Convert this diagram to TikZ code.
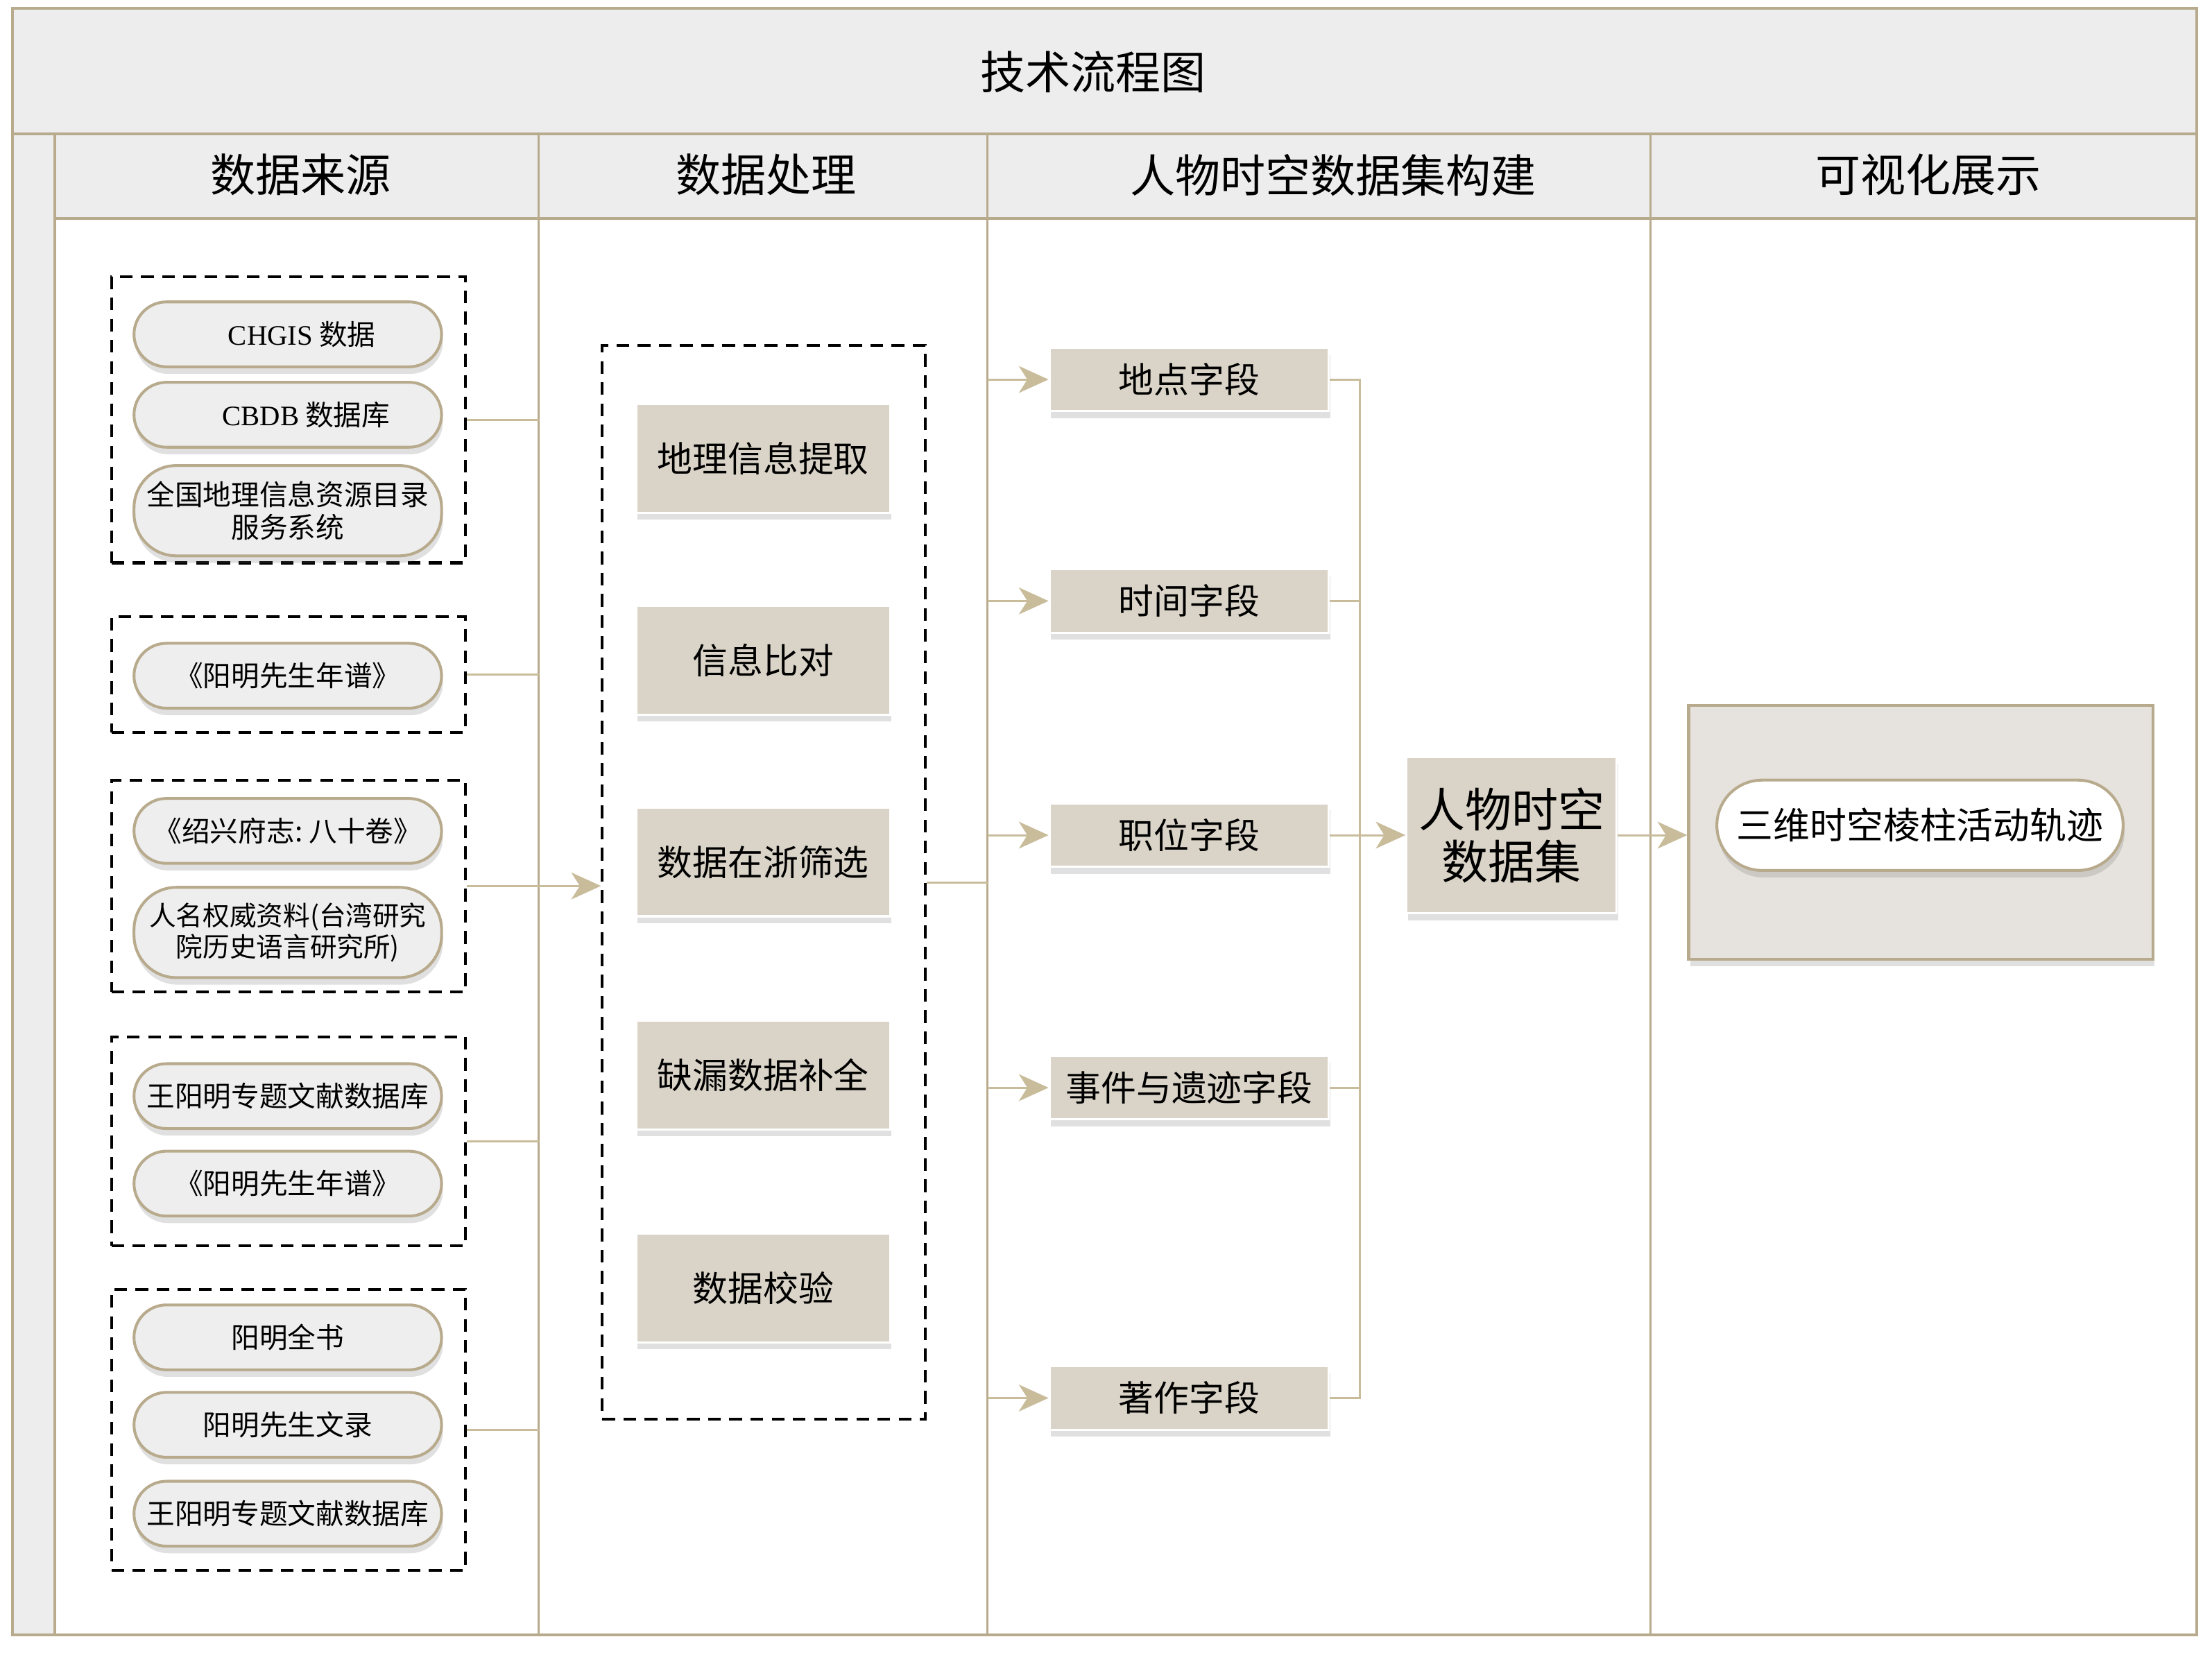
\documentclass[tikz,border=0pt]{standalone}
\usepackage{fontspec}
\setmainfont{Noto Sans CJK SC}
\newfontfamily\latinf{Liberation Serif}
\usetikzlibrary{arrows.meta,shadows}
\definecolor{tanline}{HTML}{B8AA8C}
\definecolor{arrowtan}{HTML}{C8BC9A}
\definecolor{hdrfill}{HTML}{EDEDED}
\definecolor{pillfill}{HTML}{EEEEEE}
\definecolor{boxfill}{HTML}{DAD4C8}
\definecolor{vizfill}{HTML}{E6E2DD}
\begin{document}
\begin{tikzpicture}[x=1pt,y=-1pt,
  softshadow/.style={drop shadow={shadow xshift=1pt,shadow yshift=-5pt,opacity=0.22,fill=black!55}},
  frameline/.style={draw=tanline,line width=2pt},
  divline/.style={draw=tanline,line width=1.5pt},
  title/.style={font=\fontsize{32}{36}\selectfont,inner sep=0pt},
  grp/.style={draw=black,line width=2pt,dash pattern=on 9pt off 6pt,fill=none,inner sep=0pt,minimum width=251pt},
  pill/.style={draw=tanline,line width=2pt,fill=pillfill,rounded corners=23pt,minimum width=218pt,minimum height=46pt,inner sep=0pt,align=center,font=\fontsize{20}{23}\selectfont,softshadow},
  pilltall/.style={pill,minimum height=64pt,rounded corners=30pt},
  procbox/.style={draw=white,line width=1.5pt,fill=boxfill,minimum width=180pt,minimum height=77pt,inner sep=0pt,font=\fontsize{25}{28}\selectfont,softshadow},
  fieldbox/.style={draw=white,line width=1.5pt,fill=boxfill,minimum width=198pt,minimum height=45pt,inner sep=0pt,font=\fontsize{25}{28}\selectfont,softshadow},
  conn/.style={draw=arrowtan,line width=1.5pt},
  arr/.style={conn,-{Stealth[length=21pt,width=19pt,inset=6pt,fill=arrowtan]}}
]
\useasboundingbox (0,0) rectangle (1568,1173);
\fill[white] (0,0) rectangle (1568,1173);
% frame
\fill[hdrfill] (9,6) rectangle (1557,95);
\fill[hdrfill] (39,95) rectangle (1557,155);
\fill[hdrfill] (9,95) rectangle (39,1159);
\coordinate (c1) at (382,0);
\coordinate (c2) at (700,0);
\coordinate (c3) at (1170,0);
\coordinate (bus) at (964,0);
\draw[divline] (382,95) -- (382,1159);
\draw[divline] (700,95) -- (700,1159);
\draw[divline] (1170,95) -- (1170,1159);
\draw[frameline] (39,95) -- (39,1159);
\draw[frameline] (39,155) -- (1557,155);
\draw[frameline] (9,95) -- (1557,95);
\draw[frameline] (9,6) rectangle (1557,1159);
\node[title] (ttl) at (775,51) {技术流程图};
\node[title] (h1) at (213,124) {数据来源};
\node[title] (h2) at (543,124) {数据处理};
\node[title] (h3) at (945,124) {人物时空数据集构建};
\node[title] (h4) at (1367,124) {可视化展示};
% source groups
\node[grp,minimum height=203pt] (g1) at (204.5,297.5) {};
\node[grp,minimum height=82pt] (g2) at (204.5,478) {};
\node[grp,minimum height=150pt] (g3) at (204.5,628) {};
\node[grp,minimum height=148pt] (g4) at (204.5,809) {};
\node[grp,minimum height=199pt] (g5) at (204.5,1013.5) {};
\node[pill] (s1) at (204,237) {\hspace*{20pt}{\latinf CHGIS} 数据};
\node[pill] (s2) at (204,294) {\hspace*{26pt}{\latinf CBDB} 数据库};
\node[pilltall] (s3) at (204,362) {全国地理信息资源目录\\服务系统};
\node[pill] (s4) at (204,479) {《阳明先生年谱》};
\node[pill] (s5) at (204,589) {《绍兴府志:~八十卷》};
\node[pilltall,font=\fontsize{19}{22}\selectfont] (s6) at (204,661) {人名权威资料(台湾研究\\院历史语言研究所)};
\node[pill] (s7) at (204,777) {王阳明专题文献数据库};
\node[pill] (s8) at (204,839) {《阳明先生年谱》};
\node[pill] (s9) at (204,948) {阳明全书};
\node[pill] (s10) at (204,1010) {阳明先生文录};
\node[pill] (s11) at (204,1073) {王阳明专题文献数据库};
% processing
\node[grp,minimum width=229pt,minimum height=761pt] (proc) at (541.5,625.5) {};
\node[procbox] (p1) at (541,325) {地理信息提取};
\node[procbox] (p2) at (541,468) {信息比对};
\node[procbox] (p3) at (541,611) {数据在浙筛选};
\node[procbox] (p4) at (541,762) {缺漏数据补全};
\node[procbox] (p5) at (541,913) {数据校验};
% fields
\node[fieldbox] (f1) at (843,269) {地点字段};
\node[fieldbox] (f2) at (843,426) {时间字段};
\node[fieldbox] (f3) at (843,592) {职位字段};
\node[fieldbox] (f4) at (843,771) {事件与遗迹字段};
\node[fieldbox] (f5) at (843,991) {著作字段};
\node[fieldbox,minimum width=149pt,minimum height=111pt,font=\fontsize{33}{37}\selectfont,align=center] (ds) at (1071.5,592) {人物时空\\数据集};
% visualisation
\node[draw=tanline,line width=2pt,fill=vizfill,minimum width=329pt,minimum height=180pt,inner sep=0pt,softshadow] (viz) at (1361.5,590) {};
\node[draw=tanline,line width=2pt,fill=white,rounded corners=32pt,minimum width=288pt,minimum height=64pt,inner sep=0pt,font=\fontsize{26}{30}\selectfont,softshadow] (vp) at (1361,585) {三维时空棱柱活动轨迹};
% connectors
\draw[conn] (g1.east) -- (g1.east -| c1);
\draw[conn] (g2.east) -- (g2.east -| c1);
\draw[conn] (g4.east) -- (g4.east -| c1);
\draw[conn] (g5.east) -- (g5.east -| c1);
\draw[arr] (g3.east) -- (g3.east -| proc.west);
\draw[conn] (proc.east) -- (proc.east -| c2);
\draw[arr] (f1.west -| c2) -- (f1.west);
\draw[arr] (f2.west -| c2) -- (f2.west);
\draw[arr] (f3.west -| c2) -- (f3.west);
\draw[arr] (f4.west -| c2) -- (f4.west);
\draw[arr] (f5.west -| c2) -- (f5.west);
\draw[conn] (f1.east) -- (f1.east -| bus) -- (f5.east -| bus) -- (f5.east);
\draw[conn] (f2.east) -- (f2.east -| bus);
\draw[conn] (f3.east) -- (f3.east -| bus);
\draw[conn] (f4.east) -- (f4.east -| bus);
\draw[arr] (ds.west -| bus) -- (ds.west);
\draw[arr] (ds.east) -- (ds.east -| viz.west);
\end{tikzpicture}
\end{document}
